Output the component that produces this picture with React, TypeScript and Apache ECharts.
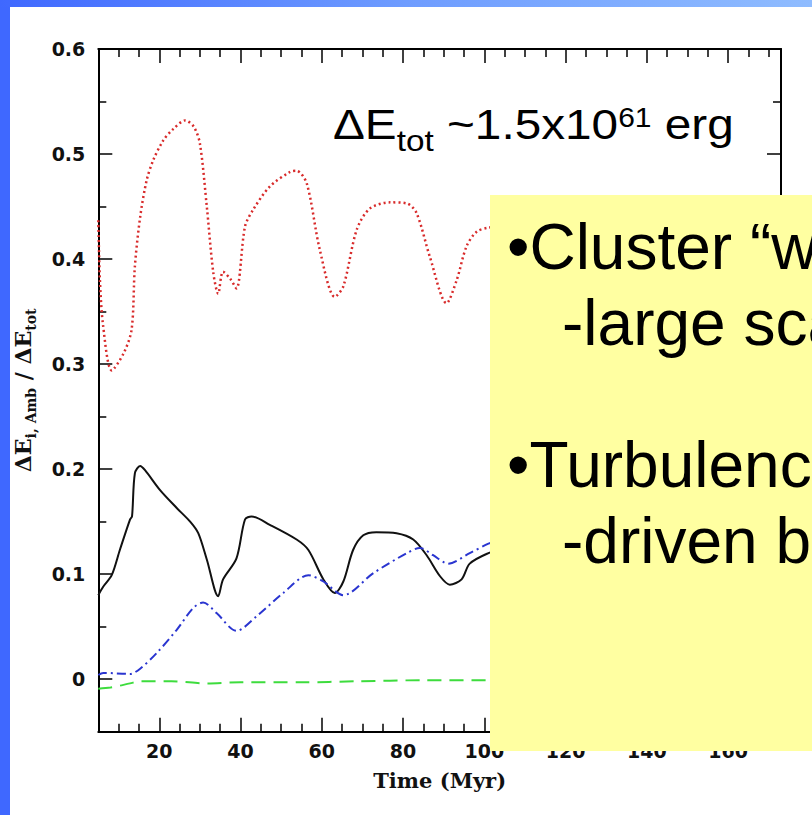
import React, { useEffect, useRef } from 'react';
import * as echarts from 'echarts';

// ---- axis ticks ----
const xMajorTicks = [20, 40, 60, 80, 100, 120, 140, 160];
const xMinorTicks = [10, 15, 25, 30, 35, 45, 50, 55, 65, 70, 75, 85, 90, 95, 105, 110, 115, 125, 130, 135, 145, 150, 155, 165, 170];
const yMajorTicks = [0, 0.1, 0.2, 0.3, 0.4, 0.5, 0.6];
const yMinorTicks = [0.05, 0.15, 0.25, 0.35, 0.45, 0.55];

// ---- series (Time in Myr, energy fraction) ----
const redT = [5, 5.4, 6.2, 8.3, 11.2, 13.2, 14.0, 15.3, 16.9, 18.5, 21, 23.5, 26.4, 28.5, 30, 31.7, 33.3, 34.5, 35.7, 37.5, 39, 41.1, 43.1, 47.2, 52.2, 53.8, 56.3, 59.5, 63.2, 65.3, 68.6, 71.8, 76.8, 80.9, 83.3, 86.6, 90.7, 93.2, 95.6, 98.1, 101, 104];
const redV = [0.437, 0.38, 0.336, 0.294, 0.31, 0.333, 0.393, 0.44, 0.475, 0.494, 0.513, 0.524, 0.532, 0.526, 0.51, 0.45, 0.387, 0.367, 0.388, 0.381, 0.372, 0.431, 0.447, 0.469, 0.483, 0.484, 0.472, 0.409, 0.364, 0.374, 0.428, 0.448, 0.454, 0.453, 0.444, 0.402, 0.358, 0.38, 0.412, 0.426, 0.43, 0.431];

const blackT = [5, 6.2, 8.3, 10.3, 12.8, 13.3, 14.0, 15.3, 16.5, 20.2, 24.3, 27.6, 29.6, 31.7, 34.5, 35.7, 39.0, 41.1, 42.7, 47.2, 53.8, 56.7, 60.4, 63.2, 65.3, 67.7, 70.2, 73.4, 78.4, 82.5, 85.8, 89.1, 91.5, 94.4, 96.4, 101, 104];
const blackV = [0.08, 0.088, 0.099, 0.123, 0.152, 0.155, 0.196, 0.203, 0.199, 0.18, 0.163, 0.15, 0.139, 0.114, 0.079, 0.095, 0.115, 0.152, 0.155, 0.147, 0.133, 0.123, 0.095, 0.082, 0.093, 0.123, 0.137, 0.14, 0.139, 0.133, 0.118, 0.098, 0.09, 0.095, 0.11, 0.12, 0.123];

const blueT = [5, 6.2, 12.8, 15.3, 19.4, 24.3, 28.4, 30.8, 34.1, 39.0, 44, 50.5, 56.7, 60.4, 65.3, 72.7, 80.9, 84.1, 87.4, 91.1, 96.4, 101, 104];
const blueV = [0.004, 0.006, 0.005, 0.01, 0.025, 0.047, 0.068, 0.073, 0.063, 0.046, 0.06, 0.082, 0.099, 0.093, 0.08, 0.101, 0.12, 0.125, 0.118, 0.11, 0.12, 0.129, 0.133];

const greenT = [5, 8, 12.8, 15.3, 23, 31.7, 40, 55, 68.6, 85, 101, 104];
const greenV = [-0.009, -0.008, -0.004, -0.002, -0.002, -0.004, -0.003, -0.003, -0.002, -0.001, -0.001, -0.001];

// ---- texts ----
const xAxisTitle = 'Time (Myr)';
const annotationText = '{m|ΔE}{sub|tot}{m| ~1.5x10}{sup|61}{m| erg}';
const yAxisTitle = '{m|ΔE}{s|i, Amb}{m| / ΔE}{s|tot}';
const boxLines = ['•Cluster “w', '-large sca', '•Turbulenc', '-driven b'];

const zip = (a: number[], b: number[]) => a.map((t, i) => [t, b[i]]);

const FRAME = '#000';
const tickFont = { fontFamily: 'DejaVu Sans', fontWeight: 'bold', fontSize: 19, color: '#111' };

function xAx(position: 'top' | 'bottom', major: boolean, labels: boolean): any {
  return {
    type: 'value',
    position,
    min: 5,
    max: 173,
    axisLine: { show: major, onZero: false, lineStyle: { color: FRAME, width: 2 } },
    axisTick: {
      show: true,
      inside: true,
      length: major ? 14 : 8,
      customValues: major ? xMajorTicks : xMinorTicks,
      lineStyle: { color: FRAME, width: 1.5 },
    },
    axisLabel: labels
      ? { show: true, customValues: xMajorTicks, margin: 10, ...tickFont }
      : { show: false },
    splitLine: { show: false },
  };
}

function yAx(position: 'left' | 'right', major: boolean, labels: boolean): any {
  return {
    type: 'value',
    position,
    min: -0.05,
    max: 0.6,
    axisLine: { show: major, onZero: false, lineStyle: { color: FRAME, width: 2 } },
    axisTick: {
      show: true,
      inside: true,
      length: major ? 14 : 8,
      customValues: major ? yMajorTicks : yMinorTicks,
      lineStyle: { color: FRAME, width: 1.5 },
    },
    axisLabel: labels
      ? {
          show: true,
          customValues: yMajorTicks,
          margin: 13,
          formatter: (v: number) => (Math.abs(v) < 1e-9 ? '0' : v.toFixed(1)),
          ...tickFont,
        }
      : { show: false },
    splitLine: { show: false },
  };
}

export default function App() {
  const ref = useRef<HTMLDivElement>(null);

  useEffect(() => {
    if (!ref.current) return;
    const chart = echarts.init(ref.current, null, { renderer: 'svg' });

    const xBottom = {
      ...xAx('bottom', true, true),
      name: xAxisTitle,
      nameLocation: 'middle',
      nameGap: 38,
      nameTextStyle: { fontFamily: 'DejaVu Serif', fontWeight: 'bold', fontSize: 21, color: '#111' },
    };
    const yLeft = {
      ...yAx('left', true, true),
      name: yAxisTitle,
      nameLocation: 'middle',
      nameGap: 60,
      nameTextStyle: {
        rich: {
          m: { fontFamily: 'DejaVu Serif', fontWeight: 'bold', fontSize: 22, lineHeight: 30, verticalAlign: 'middle', color: '#111' },
          s: { fontFamily: 'DejaVu Serif', fontWeight: 'bold', fontSize: 14, lineHeight: 14, verticalAlign: 'bottom', color: '#111' },
        },
      },
    };

    const option: any = {
      animation: false,
      backgroundColor: '#ffffff',
      grid: { left: 98.3, top: 49, width: 682.7, height: 682.7, outerBoundsMode: 'none', containLabel: false },
      xAxis: [xBottom, xAx('bottom', false, false), xAx('top', true, false), xAx('top', false, false)],
      yAxis: [yLeft, yAx('left', false, false), yAx('right', true, false), yAx('right', false, false)],
      series: [
        {
          type: 'line',
          data: zip(blackT, blackV),
          showSymbol: false,
          smooth: 0.3,
          lineStyle: { color: '#111111', width: 2 },
          silent: true,
        },
        {
          type: 'line',
          data: zip(blueT, blueV),
          showSymbol: false,
          smooth: 0.3,
          lineStyle: { color: '#2a35d0', width: 2, type: [9, 4, 2, 4] },
          silent: true,
        },
        {
          type: 'line',
          data: zip(greenT, greenV),
          showSymbol: false,
          smooth: 0.3,
          lineStyle: { color: '#3ddc3d', width: 2, type: [14, 8] },
          silent: true,
        },
        {
          type: 'line',
          data: zip(redT, redV),
          showSymbol: false,
          smooth: 0.3,
          lineStyle: { color: '#d82a2a', width: 2.5, type: [2, 3] },
          silent: true,
        },
      ],
      graphic: [
        { type: 'rect', z: 100, shape: { x: 0, y: 0, width: 10, height: 815 }, style: { fill: '#3f68ff' } },
        {
          type: 'rect',
          z: 100,
          shape: { x: 0, y: 0, width: 812, height: 7 },
          style: {
            fill: new echarts.graphic.LinearGradient(0, 0, 1, 0, [
              { offset: 0, color: '#3f68ff' },
              { offset: 0.5, color: '#6e9cff' },
              { offset: 1, color: '#8fbcff' },
            ]),
          },
        },
        {
          type: 'text',
          z: 100,
          x: 333,
          y: 92,
          scaleX: 1.11,
          style: {
            text: annotationText,
            align: 'left',
            verticalAlign: 'top',
            fill: '#000',
            rich: {
              m: { fontFamily: 'Liberation Sans', fontSize: 43, lineHeight: 64, verticalAlign: 'middle', fill: '#000' },
              sub: { fontFamily: 'Liberation Sans', fontSize: 30, lineHeight: 33, verticalAlign: 'bottom', fill: '#000' },
              sup: { fontFamily: 'Liberation Sans', fontSize: 27, lineHeight: 27, verticalAlign: 'top', padding: [12, 0, 0, 0], fill: '#000' },
            },
          },
        },
        { type: 'rect', z: 100, shape: { x: 490, y: 195, width: 330, height: 556 }, style: { fill: '#ffffa1' } },
        ...boxLines.map((t, i) => ({
          type: 'text',
          z: 101,
          x: [507, 562, 507, 562][i],
          y: [247, 323, 465, 541][i],
          style: {
            text: t,
            fontFamily: 'Liberation Sans',
            fontSize: 64,
            fill: '#000',
            align: 'left',
            verticalAlign: 'middle',
          },
        })),
      ],
    };

    chart.setOption(option);
    return () => chart.dispose();
  }, []);

  return (
    <div
      ref={ref}
      style={{ position: 'absolute', left: 0, top: 0, width: 812, height: 815, overflow: 'hidden' }}
    />
  );
}
